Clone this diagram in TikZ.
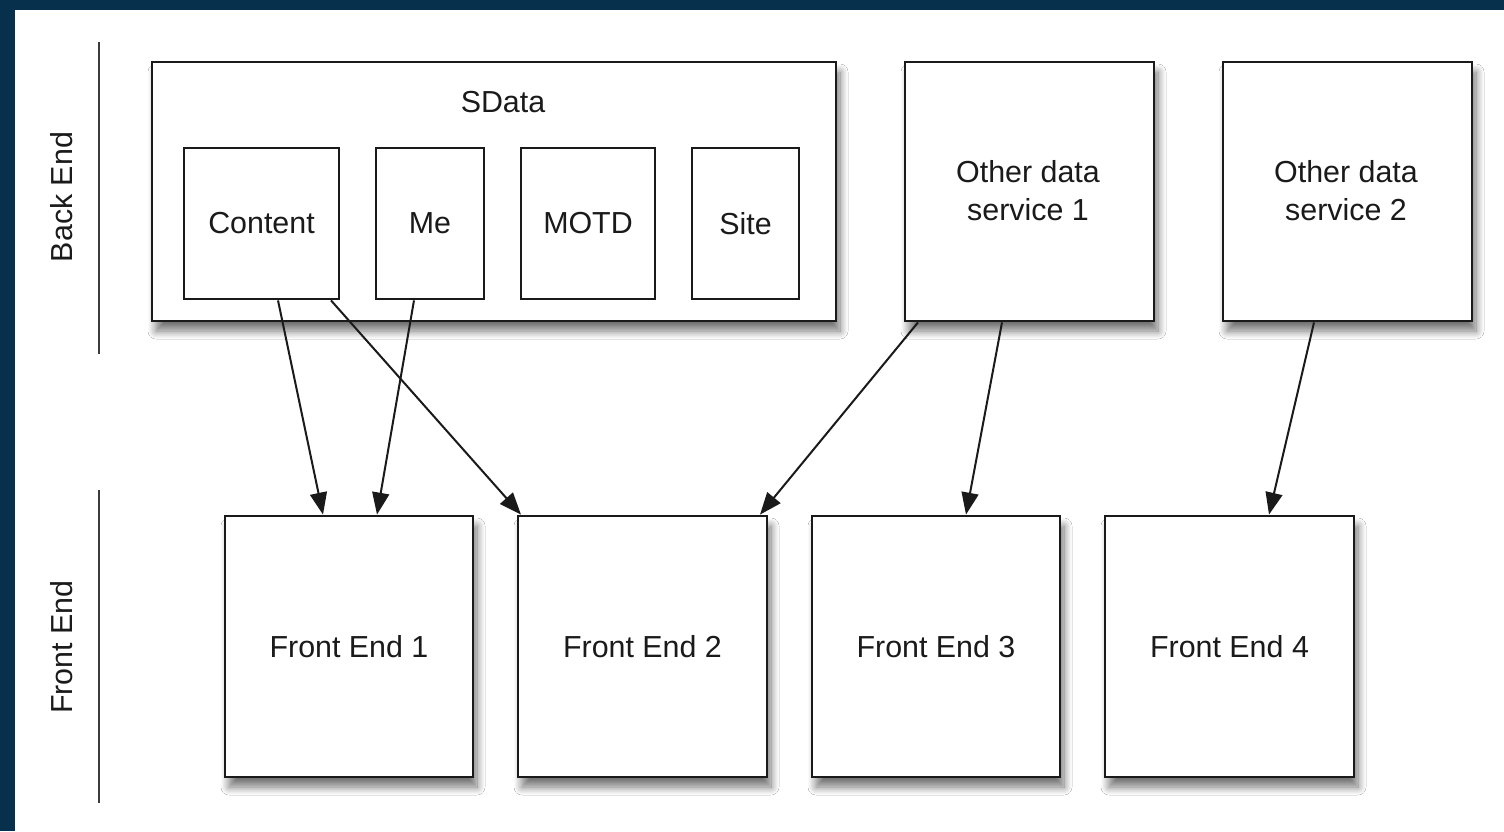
\documentclass[tikz,border=0pt]{standalone}
\usepackage{fontspec}
\setmainfont{Liberation Sans}
\usetikzlibrary{arrows.meta,shadows.blur}
\definecolor{frameblue}{HTML}{07304D}
\definecolor{ink}{HTML}{1A1A1A}
\tikzset{
  px/.style={x=0.5pt,y=-0.5pt},
  box/.style={draw=ink, line width=1.4pt, fill=white, rectangle, inner sep=0pt,
    font=\fontsize{15.2pt}{19pt}\selectfont, text=ink, align=center},
  sbox/.style={box, blur shadow={shadow xshift=2pt, shadow yshift=-5pt, shadow blur radius=4pt, shadow blur steps=12, shadow opacity=55}},
  conn/.style={draw=ink, line width=1pt, -{Triangle[length=11pt,width=8.5pt]}},
  sideline/.style={draw=ink!85, line width=1pt},
  sidelabel/.style={font=\fontsize{15.2pt}{19pt}\selectfont, text=ink, rotate=90}
}
\begin{document}
\begin{tikzpicture}[px]
\useasboundingbox (0,0) rectangle (1504,831);
\fill[frameblue] (0,0) rectangle (1504,831);
\fill[white] (15,10) rectangle (1504,831);

% side lines and labels
\coordinate (b1) at (99,42); \coordinate (b2) at (99,354);
\coordinate (f1) at (99,490); \coordinate (f2) at (99,803);
\draw[sideline] (b1) -- (b2);
\draw[sideline] (f1) -- (f2);
\node[sidelabel] (lback) at (62,197) {Back End};
\node[sidelabel] (lfront) at (62,647) {Front End};

% back end
\node[sbox, minimum width=342pt, minimum height=129.5pt] (sdata) at (494,191.5) {};
\node[font=\fontsize{15.2pt}{19pt}\selectfont, text=ink] (sdatalabel) at (503,102) {SData};
\node[box, minimum width=77.5pt, minimum height=75.5pt] (content) at (261.5,223.5) {Content};
\node[box, minimum width=54pt, minimum height=75.5pt] (me) at (430,223.5) {Me};
\node[box, minimum width=67pt, minimum height=75.5pt] (motd) at (588,223.5) {MOTD};
\node[box, minimum width=53.5pt, minimum height=75.5pt] (site) at (745.5,223.5) {Site};
\node[sbox, minimum width=124.5pt, minimum height=129.5pt] (od1) at (1029.5,191.5) {};
\node[font=\fontsize{15.2pt}{19pt}\selectfont, text=ink, align=center] (od1t) at (1028,191) {Other data\\service 1};
\node[sbox, minimum width=124.5pt, minimum height=129.5pt] (od2) at (1347.5,191.5) {};
\node[font=\fontsize{15.2pt}{19pt}\selectfont, text=ink, align=center] (od2t) at (1346,191) {Other data\\service 2};

% front end
\node[sbox, minimum width=124pt, minimum height=130.5pt] (fe1) at (349,646.5) {Front End 1};
\node[sbox, minimum width=124.5pt, minimum height=130.5pt] (fe2) at (642.5,646.5) {Front End 2};
\node[sbox, minimum width=124pt, minimum height=130.5pt] (fe3) at (936,646.5) {Front End 3};
\node[sbox, minimum width=124.5pt, minimum height=130.5pt] (fe4) at (1229.5,646.5) {Front End 4};

% connectors
\draw[conn] ([xshift=8.25pt]content.south) -- ([xshift=-13pt]fe1.north);
\draw[conn] ([xshift=-8pt]me.south) -- ([xshift=14pt]fe1.north);
\draw[conn] ([xshift=34.75pt]content.south) -- ([xshift=-60.75pt]fe2.north);
\draw[conn] ([xshift=-55.75pt]od1.south) -- ([xshift=58.75pt]fe2.north);
\draw[conn] ([xshift=-13.75pt]od1.south) -- ([xshift=15pt]fe3.north);
\draw[conn] ([xshift=-16.75pt]od2.south) -- ([xshift=19.75pt]fe4.north);
\end{tikzpicture}
\end{document}
